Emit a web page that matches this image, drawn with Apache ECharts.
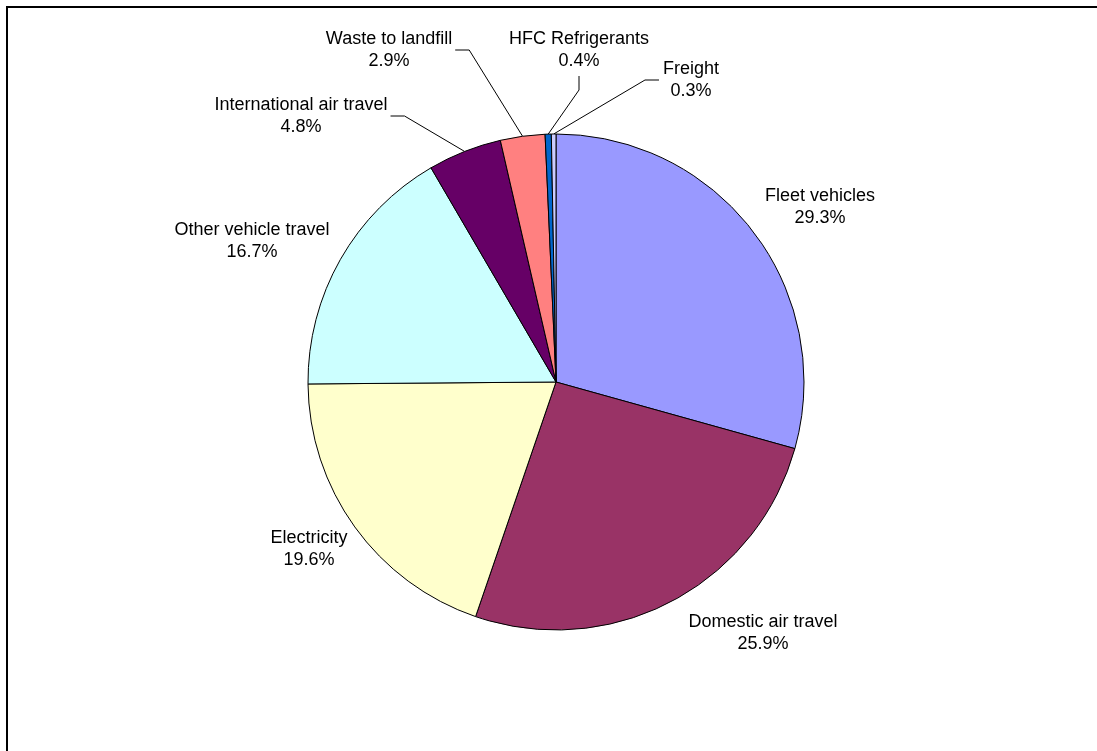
<!DOCTYPE html>
<html><head><meta charset="utf-8">
<script src="https://cdn.jsdelivr.net/npm/echarts@6/dist/echarts.min.js"></script>
<style>html,body{margin:0;padding:0;background:#fff}#c{width:1097px;height:751px}</style>
</head><body><div id="c"></div>
<script>
const categories = ['Fleet vehicles','Domestic air travel','Electricity','Other vehicle travel','International air travel','Waste to landfill','HFC Refrigerants','Freight'];
const shares = [29.3, 25.9, 19.6, 16.7, 4.8, 2.9, 0.4, 0.3];
const colors = ['#9999FF','#993366','#FFFFCC','#CCFFFF','#660066','#FF8080','#0066CC','#CCCCFF'];

// text placement of the data labels (layout only)
const labelCenters = [[820,207],[763,633],[309,549],[252,241],[301,116],[389,50],[579,50],[691,80]];
const leaderSide = [null,null,null,null,'right','right','bottom','left'];

const CX = 556, CY = 382, R = 248;
const total = shares.reduce((a,b)=>a+b,0);

const chart = echarts.init(document.getElementById('c'));
chart.setOption({
  animation: false,
  graphic: [{type:'rect', silent:true, shape:{x:7, y:7, width:1300, height:1000}, style:{fill:'none', stroke:'#000', lineWidth:2}}],
  series: [{
    type: 'pie',
    center: [CX, CY],
    radius: R,
    startAngle: 90,
    clockwise: true,
    avoidLabelOverlap: false,
    itemStyle: {borderColor:'#000', borderWidth:1},
    emphasis: {disabled: true},
    label: {
      show: true, position: 'outside',
      formatter: p => p.name + '\n' + p.value.toFixed(1) + '%',
      fontFamily: 'Liberation Sans, Arial, sans-serif', fontSize: 18, color: '#000', lineHeight: 22
    },
    labelLine: {show: true, length: 10, length2: 10, lineStyle: {color:'#000', width:1}},
    data: categories.map((n,i) => ({
      name: n, value: shares[i],
      itemStyle: {color: colors[i]},
      labelLine: {show: leaderSide[i] !== null}
    })),
    labelLayout: function (p) {
      const i = p.dataIndex;
      const cx = labelCenters[i][0], cy = labelCenters[i][1];
      const w = p.labelRect.width, h = p.labelRect.height;
      const out = {x: cx, y: cy, align: 'center', verticalAlign: 'middle'};
      const side = leaderSide[i];
      if (side) {
        let start;
        if (p.labelLinePoints && p.labelLinePoints[0]) {
          start = p.labelLinePoints[0];
        } else {
          let before = 0; for (let k = 0; k < i; k++) before += shares[k];
          const a = (before + shares[i]/2) / total * 2 * Math.PI;
          start = [CX + R*Math.sin(a), CY - R*Math.cos(a)];
        }
        let end, bend;
        if (side === 'right') { end = [cx + w/2 + 3, cy]; bend = [end[0] + 14, cy]; }
        else if (side === 'left') { end = [cx - w/2 - 4, cy]; bend = [end[0] - 14, cy]; }
        else { end = [cx, cy + h/2 + 4]; bend = [cx, end[1] + 14]; }
        out.labelLinePoints = [start, bend, end];
      }
      return out;
    }
  }]
});
</script>
</body></html>
